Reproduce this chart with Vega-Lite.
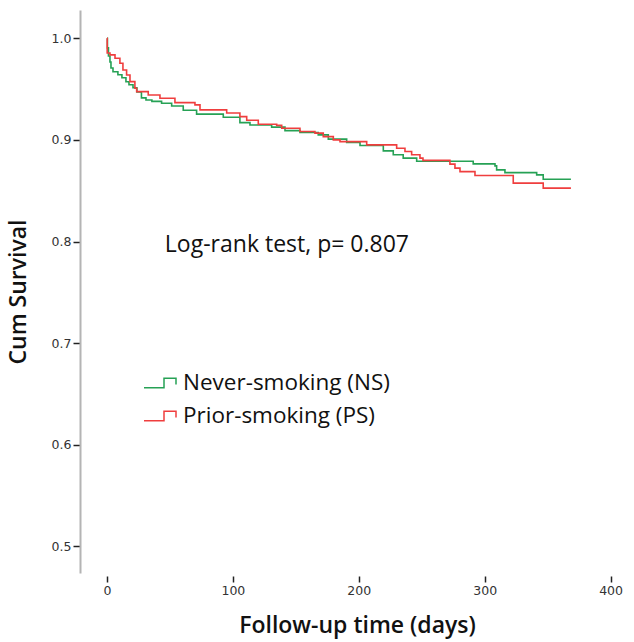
{
  "$schema": "https://vega.github.io/schema/vega-lite/v6.json",
  "width": 554,
  "height": 563,
  "autosize": {"type": "none"},
  "padding": {"left": 80, "top": 10, "right": 0, "bottom": 69},
  "background": "white",
  "config": {
    "view": {"stroke": null},
    "axis": {
      "labelFont": "DejaVu Sans",
      "labelFontSize": 12.5,
      "labelColor": "#333333",
      "tickColor": "#222222",
      "tickWidth": 1.5,
      "grid": false,
      "titleFont": "Open Sans",
      "titleFontSize": 23,
      "titleFontWeight": 600,
      "titleColor": "#111111"
    }
  },
  "datasets": {
    "km": [
      {"group": "Never-smoking (NS)", "day": 0, "surv": 1.0},
      {"group": "Never-smoking (NS)", "day": 0.4, "surv": 0.9905},
      {"group": "Never-smoking (NS)", "day": 1.2, "surv": 0.9826},
      {"group": "Never-smoking (NS)", "day": 2.4, "surv": 0.9767},
      {"group": "Never-smoking (NS)", "day": 3.2, "surv": 0.9708},
      {"group": "Never-smoking (NS)", "day": 4.8, "surv": 0.967},
      {"group": "Never-smoking (NS)", "day": 8.7, "surv": 0.9641},
      {"group": "Never-smoking (NS)", "day": 11.9, "surv": 0.9611},
      {"group": "Never-smoking (NS)", "day": 15.1, "surv": 0.9572},
      {"group": "Never-smoking (NS)", "day": 17.5, "surv": 0.9542},
      {"group": "Never-smoking (NS)", "day": 20.7, "surv": 0.9513},
      {"group": "Never-smoking (NS)", "day": 23.8, "surv": 0.9472},
      {"group": "Never-smoking (NS)", "day": 27.4, "surv": 0.9413},
      {"group": "Never-smoking (NS)", "day": 31.0, "surv": 0.9393},
      {"group": "Never-smoking (NS)", "day": 35.7, "surv": 0.9379},
      {"group": "Never-smoking (NS)", "day": 43.4, "surv": 0.9361},
      {"group": "Never-smoking (NS)", "day": 51.4, "surv": 0.9334},
      {"group": "Never-smoking (NS)", "day": 60.6, "surv": 0.9292},
      {"group": "Never-smoking (NS)", "day": 71.2, "surv": 0.9253},
      {"group": "Never-smoking (NS)", "day": 92.4, "surv": 0.9223},
      {"group": "Never-smoking (NS)", "day": 105.6, "surv": 0.917},
      {"group": "Never-smoking (NS)", "day": 113.6, "surv": 0.9147},
      {"group": "Never-smoking (NS)", "day": 130.8, "surv": 0.9125},
      {"group": "Never-smoking (NS)", "day": 141.4, "surv": 0.9091},
      {"group": "Never-smoking (NS)", "day": 153.3, "surv": 0.9072},
      {"group": "Never-smoking (NS)", "day": 167.8, "surv": 0.9049},
      {"group": "Never-smoking (NS)", "day": 175.8, "surv": 0.9007},
      {"group": "Never-smoking (NS)", "day": 190.4, "surv": 0.8975},
      {"group": "Never-smoking (NS)", "day": 201.0, "surv": 0.8944},
      {"group": "Never-smoking (NS)", "day": 219.5, "surv": 0.8892},
      {"group": "Never-smoking (NS)", "day": 227.4, "surv": 0.8853},
      {"group": "Never-smoking (NS)", "day": 235.3, "surv": 0.882},
      {"group": "Never-smoking (NS)", "day": 246.0, "surv": 0.8789},
      {"group": "Never-smoking (NS)", "day": 290.9, "surv": 0.8764},
      {"group": "Never-smoking (NS)", "day": 308.2, "surv": 0.8744},
      {"group": "Never-smoking (NS)", "day": 309.5, "surv": 0.8705},
      {"group": "Never-smoking (NS)", "day": 316.1, "surv": 0.8678},
      {"group": "Never-smoking (NS)", "day": 341.3, "surv": 0.8656},
      {"group": "Never-smoking (NS)", "day": 346.5, "surv": 0.8612},
      {"group": "Never-smoking (NS)", "day": 368.5, "surv": 0.8612},
      {"group": "Prior-smoking (PS)", "day": 0, "surv": 1.0},
      {"group": "Prior-smoking (PS)", "day": 0.2, "surv": 0.9855},
      {"group": "Prior-smoking (PS)", "day": 2.4, "surv": 0.9836},
      {"group": "Prior-smoking (PS)", "day": 6.4, "surv": 0.9803},
      {"group": "Prior-smoking (PS)", "day": 10.3, "surv": 0.9754},
      {"group": "Prior-smoking (PS)", "day": 12.7, "surv": 0.9688},
      {"group": "Prior-smoking (PS)", "day": 15.6, "surv": 0.9639},
      {"group": "Prior-smoking (PS)", "day": 18.3, "surv": 0.9573},
      {"group": "Prior-smoking (PS)", "day": 22.2, "surv": 0.9508},
      {"group": "Prior-smoking (PS)", "day": 23.6, "surv": 0.9475},
      {"group": "Prior-smoking (PS)", "day": 32.8, "surv": 0.9442},
      {"group": "Prior-smoking (PS)", "day": 42.1, "surv": 0.941},
      {"group": "Prior-smoking (PS)", "day": 54.0, "surv": 0.9367},
      {"group": "Prior-smoking (PS)", "day": 69.9, "surv": 0.9344},
      {"group": "Prior-smoking (PS)", "day": 73.9, "surv": 0.9295},
      {"group": "Prior-smoking (PS)", "day": 95.1, "surv": 0.9265},
      {"group": "Prior-smoking (PS)", "day": 105.6, "surv": 0.9229},
      {"group": "Prior-smoking (PS)", "day": 111.0, "surv": 0.9193},
      {"group": "Prior-smoking (PS)", "day": 120.2, "surv": 0.9154},
      {"group": "Prior-smoking (PS)", "day": 134.8, "surv": 0.9143},
      {"group": "Prior-smoking (PS)", "day": 138.8, "surv": 0.9115},
      {"group": "Prior-smoking (PS)", "day": 153.3, "surv": 0.9082},
      {"group": "Prior-smoking (PS)", "day": 165.2, "surv": 0.9066},
      {"group": "Prior-smoking (PS)", "day": 171.8, "surv": 0.9032},
      {"group": "Prior-smoking (PS)", "day": 179.8, "surv": 0.9},
      {"group": "Prior-smoking (PS)", "day": 185.1, "surv": 0.8983},
      {"group": "Prior-smoking (PS)", "day": 206.3, "surv": 0.8951},
      {"group": "Prior-smoking (PS)", "day": 230.1, "surv": 0.8918},
      {"group": "Prior-smoking (PS)", "day": 236.7, "surv": 0.8885},
      {"group": "Prior-smoking (PS)", "day": 242.0, "surv": 0.8853},
      {"group": "Prior-smoking (PS)", "day": 248.6, "surv": 0.882},
      {"group": "Prior-smoking (PS)", "day": 251.0, "surv": 0.8798},
      {"group": "Prior-smoking (PS)", "day": 272.4, "surv": 0.8761},
      {"group": "Prior-smoking (PS)", "day": 276.4, "surv": 0.8722},
      {"group": "Prior-smoking (PS)", "day": 280.4, "surv": 0.8688},
      {"group": "Prior-smoking (PS)", "day": 292.3, "surv": 0.8649},
      {"group": "Prior-smoking (PS)", "day": 322.7, "surv": 0.8574},
      {"group": "Prior-smoking (PS)", "day": 346.5, "surv": 0.8525},
      {"group": "Prior-smoking (PS)", "day": 368.5, "surv": 0.8525}
    ],
    "note": [
      {"day": 46, "surv": 0.797, "label": "Log-rank test, p= 0.807"}
    ]
  },
  "layer": [
    {
      "data": {"name": "km"},
      "mark": {"type": "line", "interpolate": "step-after", "strokeWidth": 1.6},
      "encoding": {
        "x": {
          "field": "day",
          "type": "quantitative",
          "scale": {"domain": [-21.4, 418.6], "nice": false, "zero": false},
          "axis": {
            "title": "Follow-up time (days)",
            "values": [0, 100, 200, 300, 400],
            "domain": false,
            "offset": 3,
            "tickSize": 6,
            "labelPadding": 2,
            "titlePadding": 18
          }
        },
        "y": {
          "field": "surv",
          "type": "quantitative",
          "scale": {"domain": [0.4738, 1.0278], "nice": false, "zero": false},
          "axis": {
            "title": "Cum Survival",
            "values": [0.5, 0.6, 0.7, 0.8, 0.9, 1.0],
            "format": ".1f",
            "domain": true,
            "domainColor": "#b4b4b4",
            "domainWidth": 2,
            "tickSize": 7,
            "labelPadding": 2,
            "titlePadding": 21
          }
        },
        "color": {
          "field": "group",
          "type": "nominal",
          "scale": {
            "domain": ["Never-smoking (NS)", "Prior-smoking (PS)"],
            "range": ["#26a155", "#ef3e3e"]
          },
          "legend": {
            "title": null,
            "orient": "none",
            "legendX": 63,
            "legendY": 356,
            "padding": 0,
            "symbolType": "M-1,0.3H0.25V-0.3H1V0.1",
            "symbolSize": 1024,
            "symbolFillColor": "transparent",
            "symbolStrokeWidth": 1.5,
            "labelFont": "Open Sans",
            "labelFontSize": 22.5,
            "labelColor": "#111111",
            "labelOffset": 6,
            "labelLimit": 0,
            "rowPadding": 4
          }
        }
      }
    },
    {
      "data": {"name": "note"},
      "mark": {"type": "text", "align": "left", "baseline": "middle", "font": "Open Sans", "fontSize": 23, "color": "#111111"},
      "encoding": {
        "x": {"field": "day", "type": "quantitative"},
        "y": {"field": "surv", "type": "quantitative"},
        "text": {"field": "label"}
      }
    },
    {
      "mark": {"type": "rule", "color": "#b4b4b4", "strokeWidth": 2},
      "encoding": {"y": {"datum": 0.4738}}
    }
  ]
}
